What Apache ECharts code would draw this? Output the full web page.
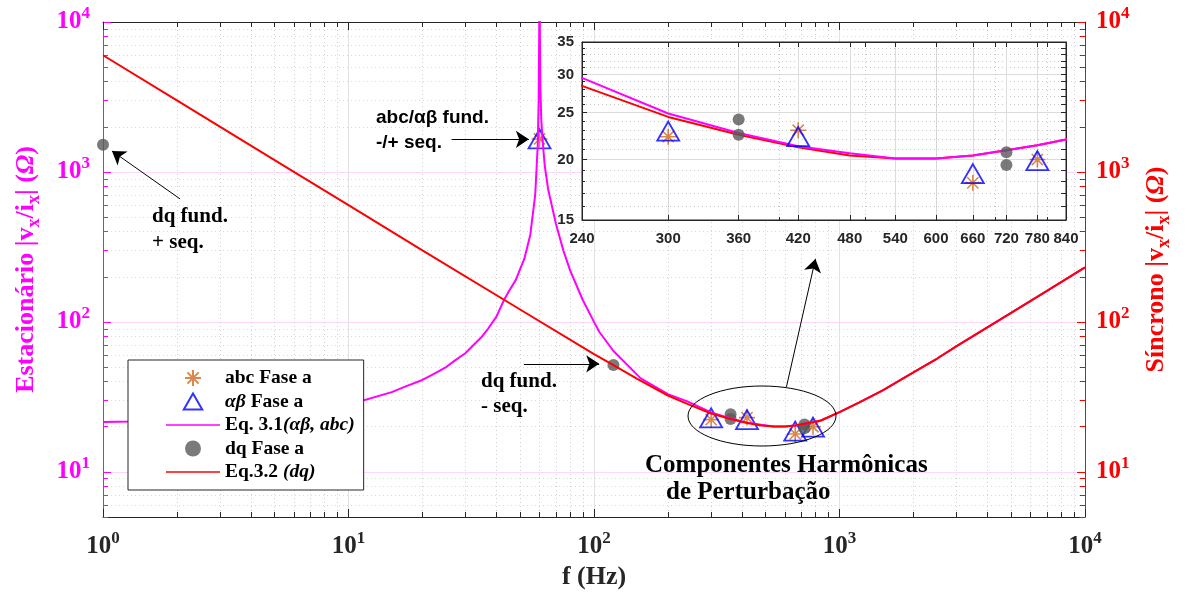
<!DOCTYPE html>
<html>
<head>
<meta charset="utf-8">
<script src="https://cdn.jsdelivr.net/npm/echarts@6/dist/echarts.min.js"></script>
<style>
html, body { margin: 0; padding: 0; background: #fff; }
#chart { width: 1192px; height: 597px; }
</style>
</head>
<body>
<div id="chart"></div>
<script>
// Eq. 3.1 (stationary frame) curve
const magFreq = [1, 1.3, 2, 5, 10, 15, 17, 20, 22, 25, 27, 30, 32, 35, 37, 40, 43, 45, 48, 50, 52, 55, 57.6, 59, 59.5, 59.8, 60, 60.2, 60.5, 61, 62, 63, 65, 70, 75, 80, 90, 100, 105, 120, 155, 200, 240, 300, 360, 420, 480, 540, 600, 660, 720, 780, 840, 1000, 1200, 1500, 2000, 2500, 3000, 5000, 7000, 10000]
const magZ = [21.5, 21.7, 22.2, 24, 28, 34, 37, 41, 44.5, 50, 55, 62, 69, 80, 90, 108, 140, 160, 190, 225, 263, 380, 700, 1500, 3000, 8000, 30000, 8000, 3600, 2200, 1500, 1100, 770, 450, 300, 220, 140, 100, 86, 64, 42, 33, 29.5, 24.9, 22.7, 21.3, 20.6, 20.1, 20.1, 20.4, 20.9, 21.4, 22.0, 25, 29, 35, 46, 57, 69, 115, 161, 231]
// Eq. 3.2 (dq) curve
const redFreq = [1, 2, 5, 10, 20, 50, 100, 120, 150, 200, 240, 300, 360, 420, 480, 540, 600, 660, 720, 780, 840, 1000, 1200, 1500, 2000, 2500, 3000, 5000, 7000, 10000]
const redZ = [6000, 3000, 1200, 600, 300, 121, 61, 51.5, 41.7, 32.3, 28.4, 24.5, 22.5, 21.2, 20.4, 20.1, 20.1, 20.4, 20.9, 21.4, 22.0, 25, 29, 35, 46, 57, 69, 115, 161, 231]
// measured points
const abcFreq = [60, 300, 420, 660, 780]
const abcZ = [1660, 22.3, 23.0, 17.9, 20.0]
const abFreq = [60, 300, 420, 660, 780]
const abZ = [1660, 22.9, 22.3, 18.7, 19.9]
const dqFreq = [1, 120, 360, 360, 720, 720]
const dqZ = [1520, 51.6, 24.2, 22.5, 20.7, 19.5]

// ticks
const decX = [1, 10, 100, 1000, 10000]
const decY = [10, 100, 1000, 10000]
const insetXTicks = [240, 300, 360, 420, 480, 540, 600, 660, 720, 780, 840]
const insetXMinor = [300, 400, 500, 600, 700, 800]
const insetYTicks = [15, 20, 25, 30, 35]
const insetYMinor = [16, 17, 18, 19, 21, 22, 23, 24, 26, 27, 28, 29, 31, 32, 33, 34]

function minors(from, to) {
  let out = []
  for (let d = 1; d < to; d *= 10) {
    for (let m = 2; m <= 9; m++) {
      const v = m * d
      if (v >= from && v <= to) out.push(v)
    }
  }
  return out
}
const minX = minors(1, 10000)
const minY = minors(5, 10000)

function zip(a, b) { return a.map((v, i) => [v, b[i]]) }

const SERIF = '"Liberation Serif", "DejaVu Serif", serif'
const SANS = '"Liberation Sans", Arial, sans-serif'
const ORANGE = '#d2691e'
const BLUE = '#0000ff'
const GRAY = '#595959'
const MAG = '#ff00ff'
const RED = '#ff0000'
const INK = '#262626'
const STAR = 'path://M0,5L10,5M5,0L5,10M1.5,1.5L8.5,8.5M8.5,1.5L1.5,8.5'
const TRI = 'path://M5,0L10,8.66L0,8.66Z'
const BAR = 'path://M0,0L50,0L50,1.6L0,1.6Z'

function powLabel(v) { return '{b|10}{s|' + Math.round(Math.log10(v)) + '}' }
function powRich(color) {
  return {
    b: { fontFamily: SERIF, fontWeight: 'bold', fontSize: 25, color: color },
    s: { fontFamily: SERIF, fontWeight: 'bold', fontSize: 17, color: color, padding: [0, 0, 17, 0] }
  }
}
function nameRich(color) {
  return {
    sub: { fontFamily: SERIF, fontWeight: 'bold', fontSize: 18, color: color, padding: [15, 0, 0, 0] },
    it: { fontFamily: SERIF, fontWeight: 'bold', fontStyle: 'italic', fontSize: 26, color: color }
  }
}

// a hidden log axis used only to draw ticks / grid lines
function helperAx(grid, pos, min, max, ticks, len, tickColor, split) {
  return {
    type: 'log', gridIndex: grid, position: pos, min: min, max: max, z: grid ? 2 : 0,
    axisLine: { show: false },
    axisTick: { show: len > 0, inside: true, length: len, customValues: ticks, lineStyle: { color: tickColor } },
    axisLabel: { show: false },
    splitLine: split ? { show: true, lineStyle: split } : { show: false }
  }
}

const chart = echarts.init(document.getElementById('chart'))

const option = {
  animation: false,
  backgroundColor: '#fff',
  grid: [
    { left: 103, top: 22, right: 107, bottom: 80 },
    { left: 582, top: 42, width: 484, height: 178, show: true, z: 1, backgroundColor: '#fff', borderColor: INK, borderWidth: 1 }
  ],
  xAxis: [
    {
      type: 'log', gridIndex: 0, position: 'bottom', min: 1, max: 10000,
      axisLine: { show: true, onZero: false, lineStyle: { color: INK } },
      axisTick: { inside: true, length: 8, customValues: decX, lineStyle: { color: INK } },
      axisLabel: { customValues: decX, formatter: powLabel, margin: 13, rich: powRich(INK) },
      splitLine: { show: true, lineStyle: { color: '#e2e2e2' } },
      name: 'f (Hz)', nameLocation: 'middle', nameGap: 47,
      nameTextStyle: { fontFamily: SERIF, fontWeight: 'bold', fontSize: 26, color: INK }
    },
    helperAx(0, 'bottom', 1, 10000, minX, 5, INK, { color: '#d0d0d0', type: [1, 3] }),
    {
      type: 'log', gridIndex: 0, position: 'top', min: 1, max: 10000,
      axisLine: { show: true, onZero: false, lineStyle: { color: INK } },
      axisTick: { inside: true, length: 8, customValues: decX, lineStyle: { color: INK } },
      axisLabel: { show: false }, splitLine: { show: false }
    },
    helperAx(0, 'top', 1, 10000, minX, 5, INK, null),
    {
      type: 'log', gridIndex: 1, position: 'bottom', min: 240, max: 840, z: 2,
      axisLine: { show: true, onZero: false, lineStyle: { color: INK } },
      axisTick: { inside: true, length: 5, customValues: insetXTicks, lineStyle: { color: INK } },
      axisLabel: { customValues: insetXTicks, margin: 11, fontFamily: SANS, fontWeight: 'bold', fontSize: 15, color: INK },
      splitLine: { show: true, lineStyle: { color: '#dcdcdc' } }
    },
    helperAx(1, 'bottom', 240, 840, insetXMinor, 3, INK, { color: '#c8c8c8', type: [1, 3] }),
    {
      type: 'log', gridIndex: 1, position: 'top', min: 240, max: 840, z: 2,
      axisLine: { show: true, onZero: false, lineStyle: { color: INK } },
      axisTick: { inside: true, length: 5, customValues: insetXTicks.concat(insetXMinor), lineStyle: { color: INK } },
      axisLabel: { show: false }, splitLine: { show: false }
    }
  ],
  yAxis: [
    {
      type: 'log', gridIndex: 0, position: 'left', min: 5, max: 10000,
      axisLine: { show: true, onZero: false, lineStyle: { color: MAG } },
      axisTick: { inside: true, length: 8, customValues: decY, lineStyle: { color: MAG } },
      axisLabel: { customValues: decY, formatter: powLabel, margin: 13, rich: powRich(MAG) },
      splitLine: { show: true, lineStyle: { color: '#ffd6ff' } },
      name: 'Estacionário |v{sub|x}/i{sub|x}| ({it|Ω})', nameLocation: 'middle', nameGap: 60,
      nameTextStyle: { fontFamily: SERIF, fontWeight: 'bold', fontSize: 26, color: MAG, rich: nameRich(MAG) }
    },
    helperAx(0, 'left', 5, 10000, minY, 5, MAG, { color: '#ffc0ff', type: [1, 3] }),
    {
      type: 'log', gridIndex: 0, position: 'right', min: 5, max: 10000,
      axisLine: { show: true, onZero: false, lineStyle: { color: RED } },
      axisTick: { inside: true, length: 8, customValues: decY, lineStyle: { color: RED } },
      axisLabel: { customValues: decY, formatter: powLabel, margin: 11, rich: powRich(RED) },
      splitLine: { show: false },
      name: 'Síncrono |v{sub|x}/i{sub|x}| ({it|Ω})', nameLocation: 'middle', nameGap: 55, nameRotate: 90,
      nameTextStyle: { fontFamily: SERIF, fontWeight: 'bold', fontSize: 26, color: RED, rich: nameRich(RED) }
    },
    helperAx(0, 'right', 5, 10000, minY, 5, RED, null),
    {
      type: 'log', gridIndex: 1, position: 'left', min: 15, max: 35, z: 2,
      axisLine: { show: true, onZero: false, lineStyle: { color: INK } },
      axisTick: { inside: true, length: 5, customValues: insetYTicks, lineStyle: { color: INK } },
      axisLabel: { customValues: insetYTicks, margin: 8, fontFamily: SANS, fontWeight: 'bold', fontSize: 15, color: INK },
      splitLine: { show: true, lineStyle: { color: '#dcdcdc' } }
    },
    helperAx(1, 'left', 15, 35, insetYMinor, 3, INK, { color: '#c8c8c8', type: [1, 3] }),
    {
      type: 'log', gridIndex: 1, position: 'right', min: 15, max: 35, z: 2,
      axisLine: { show: true, onZero: false, lineStyle: { color: INK } },
      axisTick: { inside: true, length: 5, customValues: insetYTicks.concat(insetYMinor), lineStyle: { color: INK } },
      axisLabel: { show: false }, splitLine: { show: false }
    }
  ],
  legend: {
    left: 128, top: 360, orient: 'vertical', selectedMode: false, symbolKeepAspect: true,
    padding: [8, 9, 8, 38], itemGap: 3.5, itemWidth: 54, itemHeight: 16,
    backgroundColor: '#fff', borderColor: INK, borderWidth: 1,
    data: [
      { name: 'abc Fase a' },
      { name: 'αβ Fase a', icon: TRI },
      { name: 'Eq. 3.1(αβ, abc)', icon: BAR },
      { name: 'dq Fase a', icon: 'circle' },
      { name: 'Eq.3.2 (dq)', icon: BAR }
    ],
    formatter: function (name) {
      if (name === 'αβ Fase a') return '{i|αβ} Fase a'
      if (name === 'Eq. 3.1(αβ, abc)') return 'Eq. 3.1{i|(αβ, abc)}'
      if (name === 'Eq.3.2 (dq)') return 'Eq.3.2 {i|(dq)}'
      return name
    },
    textStyle: {
      fontFamily: SERIF, fontWeight: 'bold', fontSize: 19.5, color: '#000', lineHeight: 20,
      rich: { i: { fontFamily: SERIF, fontWeight: 'bold', fontStyle: 'italic', fontSize: 19.5, color: '#000' } }
    }
  },
  series: [
    {
      name: 'abc Fase a', type: 'scatter', xAxisIndex: 0, yAxisIndex: 0, data: zip(abcFreq, abcZ),
      symbol: STAR, symbolSize: 16, itemStyle: { color: 'transparent', borderColor: ORANGE, borderWidth: 1.6 }
    },
    {
      name: 'αβ Fase a', type: 'scatter', xAxisIndex: 0, yAxisIndex: 0, data: zip(abFreq, abZ),
      symbol: TRI, symbolSize: [22, 19], itemStyle: { color: 'transparent', borderColor: BLUE, borderWidth: 1.8 }
    },
    {
      name: 'Eq. 3.1(αβ, abc)', type: 'line', xAxisIndex: 0, yAxisIndex: 0, data: zip(magFreq, magZ),
      symbol: 'none', lineStyle: { color: MAG, width: 2 }, itemStyle: { color: MAG }
    },
    {
      name: 'dq Fase a', type: 'scatter', xAxisIndex: 0, yAxisIndex: 0, data: zip(dqFreq, dqZ),
      symbol: 'circle', symbolSize: 12, itemStyle: { color: GRAY }
    },
    {
      name: 'Eq.3.2 (dq)', type: 'line', xAxisIndex: 0, yAxisIndex: 0, data: zip(redFreq, redZ),
      symbol: 'none', lineStyle: { color: RED, width: 2 }, itemStyle: { color: RED },
      markLine: {
        silent: true, symbol: ['none', 'arrow'], symbolSize: 13,
        label: { show: false },
        lineStyle: { color: '#000', width: 1, type: 'solid' },
        data: [
          [{ coord: [26.3, 1650] }, { coord: [54.3, 1650] }],
          [{ coord: [2.06, 661] }, { coord: [1.088, 1380] }],
          [{ coord: [51.8, 52.5] }, { coord: [105, 52.5] }],
          [{ coord: [608, 36.9] }, { coord: [798, 263] }]
        ]
      }
    },
    // inset
    {
      name: 'Eq.3.2 (dq)', type: 'line', xAxisIndex: 4, yAxisIndex: 4, data: zip(redFreq, redZ), z: 3,
      symbol: 'none', lineStyle: { color: RED, width: 2 }, itemStyle: { color: RED }
    },
    {
      name: 'Eq. 3.1(αβ, abc)', type: 'line', xAxisIndex: 4, yAxisIndex: 4, data: zip(magFreq, magZ), z: 3,
      symbol: 'none', lineStyle: { color: MAG, width: 2 }, itemStyle: { color: MAG }
    },
    {
      name: 'abc Fase a', type: 'scatter', xAxisIndex: 4, yAxisIndex: 4, data: zip(abcFreq, abcZ), z: 4,
      symbol: STAR, symbolSize: 16, itemStyle: { color: 'transparent', borderColor: ORANGE, borderWidth: 1.6 }
    },
    {
      name: 'αβ Fase a', type: 'scatter', xAxisIndex: 4, yAxisIndex: 4, data: zip(abFreq, abZ), z: 4,
      symbol: TRI, symbolSize: [22, 19], itemStyle: { color: 'transparent', borderColor: BLUE, borderWidth: 1.8 }
    },
    {
      name: 'dq Fase a', type: 'scatter', xAxisIndex: 4, yAxisIndex: 4, data: zip(dqFreq, dqZ), z: 4,
      symbol: 'circle', symbolSize: 12, itemStyle: { color: GRAY }
    }
  ],
  graphic: [
    { type: 'text', x: 376, y: 118, z: 10, style: { text: 'abc/αβ fund.', font: 'bold 19px ' + SANS, fill: '#000', verticalAlign: 'middle' } },
    { type: 'text', x: 376, y: 143, z: 10, style: { text: '-/+ seq.', font: 'bold 19px ' + SANS, fill: '#000', verticalAlign: 'middle' } },
    { type: 'text', x: 152, y: 217, z: 10, style: { text: 'dq fund.', font: 'bold 21px ' + SERIF, fill: '#000', verticalAlign: 'middle' } },
    { type: 'text', x: 152, y: 243, z: 10, style: { text: '+ seq.', font: 'bold 21px ' + SERIF, fill: '#000', verticalAlign: 'middle' } },
    { type: 'text', x: 481, y: 382, z: 10, style: { text: 'dq fund.', font: 'bold 21px ' + SERIF, fill: '#000', verticalAlign: 'middle' } },
    { type: 'text', x: 481, y: 407, z: 10, style: { text: '- seq.', font: 'bold 21px ' + SERIF, fill: '#000', verticalAlign: 'middle' } },
    { type: 'text', x: 645, y: 466, z: 10, style: { text: 'Componentes Harmônicas', font: 'bold 25px ' + SERIF, fill: '#000', verticalAlign: 'middle' } },
    { type: 'text', x: 666, y: 493, z: 10, style: { text: 'de Perturbação', font: 'bold 25px ' + SERIF, fill: '#000', verticalAlign: 'middle' } },
    { type: 'ellipse', z: 10, shape: { cx: 762, cy: 416, rx: 74, ry: 30 }, style: { fill: 'none', stroke: '#000', lineWidth: 1 } }
  ]
}

chart.setOption(option)
</script>
</body>
</html>
